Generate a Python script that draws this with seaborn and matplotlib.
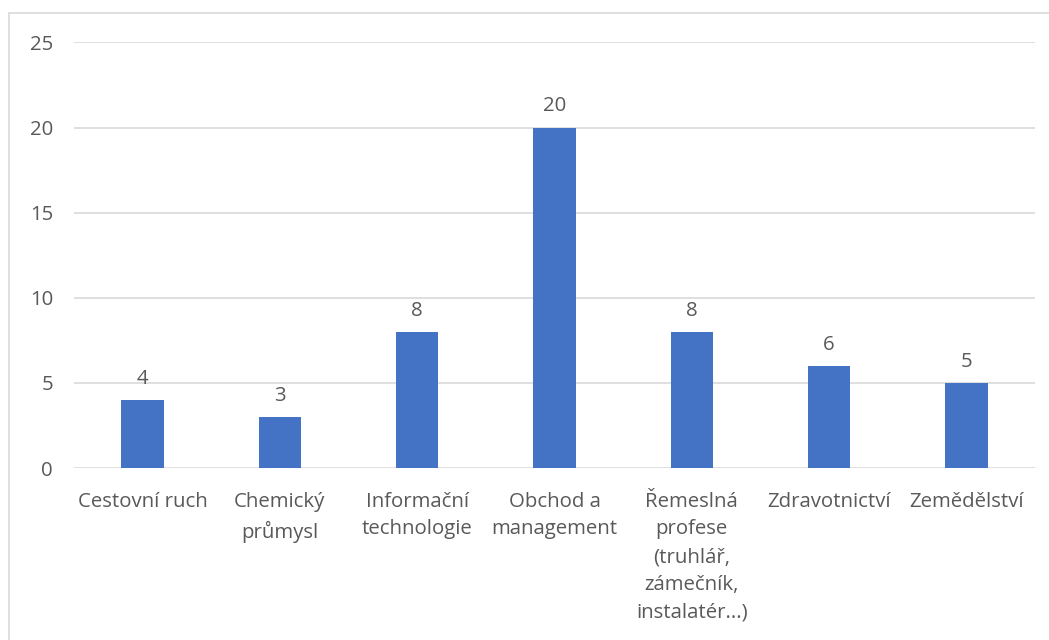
import matplotlib
matplotlib.use("Agg")
import matplotlib.pyplot as plt
import seaborn as sns
import pandas as pd
from matplotlib.lines import Line2D

categories = [
    "Cestovní ruch",
    "Chemický\nprůmysl",
    "Informační\ntechnologie",
    "Obchod a\nmanagement",
    "Řemeslná\nprofese\n(truhlář,\nzámečník,\ninstalatér...)",
    "Zdravotnictví",
    "Zemědělství",
]
counts = [4, 3, 8, 20, 8, 6, 5]
yticks = [0, 5, 10, 15, 20, 25]

sns.set_theme(style="white")
plt.rcParams["font.family"] = ["Open Sans", "DejaVu Sans"]

text_col = "#595959"
grid_col = "#D9D9D9"
bar_col = "#4472C4"
fs = 14.7

df = pd.DataFrame({"obor": categories, "pocet": counts})

fig = plt.figure(figsize=(10.49, 6.4), dpi=100)
ax = fig.add_axes([0.0705, 0.26875, 0.9162, 0.6649])

sns.barplot(data=df, x="obor", y="pocet", color=bar_col, width=0.31,
            saturation=1, linewidth=0, ax=ax, zorder=3)

ax.set_ylim(0, 25)
ax.set_xlim(-0.5, len(categories) - 0.5)
ax.set_yticks(yticks)
ax.yaxis.grid(True, color=grid_col, linewidth=1.2, zorder=0)
ax.set_axisbelow(True)
for s in ax.spines.values():
    s.set_visible(False)
ax.set_xlabel("")
ax.set_ylabel("")
ax.tick_params(axis="y", length=0, pad=15, labelsize=fs, labelcolor=text_col)
ax.tick_params(axis="x", length=0, pad=17, labelsize=fs, labelcolor=text_col)
for lab in ax.get_xticklabels():
    lab.set_linespacing(1.52)

for c in ax.containers:
    ax.bar_label(c, padding=8, fontsize=fs, color=text_col)

# chart border (top and left visible in the crop)
fig.add_artist(Line2D([9 / 1049, 9 / 1049], [0, 1 - 13 / 640], transform=fig.transFigure,
                      color=grid_col, linewidth=1.2))
fig.add_artist(Line2D([9 / 1049, 1], [1 - 13 / 640, 1 - 13 / 640], transform=fig.transFigure,
                      color=grid_col, linewidth=1.2))

fig.savefig("out.png", dpi=100)
